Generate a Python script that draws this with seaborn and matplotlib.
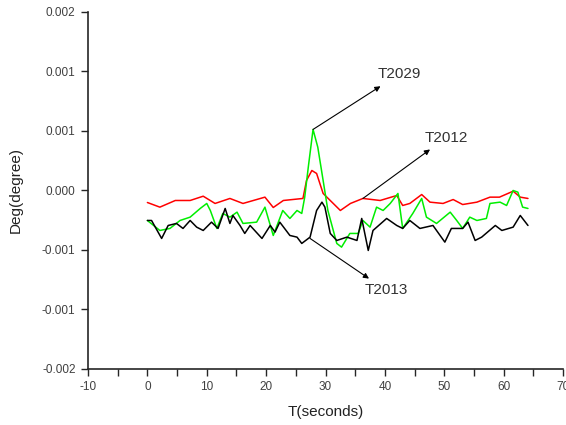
import matplotlib
matplotlib.use("Agg")
import matplotlib.pyplot as plt
import seaborn as sns

# time (s) and angle deviation (degree)
t_red = [0, 2.1, 4.7, 7.2, 9.4, 11.4, 13.9, 16.1, 19.8, 21.2, 22.9, 26.2, 26.8, 27.7, 28.5,
         29.6, 32.5, 34.2, 36.3, 39.2, 42.0, 43.0, 44.2, 46.2, 47.6, 49.8, 51.5, 53.1, 55.5,
         57.7, 59.3, 61.6, 62.8, 64.1]
deg_red = [-0.000101, -0.000140, -0.000084, -0.000084, -0.000048, -0.000109, -0.000067,
           -0.000109, -0.000056, -0.000143, -0.000084, -0.000067, 0.000084, 0.000168, 0.000143,
           -0.000025, -0.000168, -0.000109, -0.000067, -0.000084, -0.000042, -0.000126,
           -0.000109, -0.000034, -0.000098, -0.000109, -0.000076, -0.000118, -0.000098,
           -0.000056, -0.000056, -0.000006, -0.000056, -0.000067]

t_green = [0, 2.1, 3.8, 5.5, 7.2, 8.9, 10.0, 10.6, 11.7, 12.7, 13.9, 15.1, 16.1, 18.4, 19.8,
           21.2, 22.8, 24.0, 25.2, 26.0, 26.5, 27.1, 27.9, 28.7, 29.6, 30.4, 31.9, 32.7, 34.1,
           35.5, 36.3, 37.5, 38.6, 39.7, 40.9, 42.2, 43.0, 44.7, 46.2, 47.0, 48.7, 51.0, 52.1,
           53.1, 54.3, 55.5, 57.1, 57.7, 59.4, 60.5, 61.6, 62.4, 63.2, 64.1]
deg_green = [-0.000252, -0.000336, -0.000319, -0.000252, -0.000224, -0.000151, -0.000109,
             -0.000168, -0.000319, -0.000193, -0.000224, -0.000182, -0.000277, -0.000266,
             -0.000140, -0.000378, -0.000168, -0.000235, -0.000168, -0.000193, -0.000056,
             0.000196, 0.000513, 0.000364, 0.000084, -0.000168, -0.000445, -0.000476,
             -0.000361, -0.000361, -0.000252, -0.000308, -0.000140, -0.000168, -0.000109,
             -0.000025, -0.000319, -0.000193, -0.000067, -0.000224, -0.000277, -0.000182,
             -0.000252, -0.000319, -0.000224, -0.000252, -0.000235, -0.000109, -0.000098,
             -0.000126, 0.000000, -0.000014, -0.000140, -0.000151]

t_black = [0, 0.7, 2.4, 3.5, 4.9, 6.0, 7.2, 8.3, 9.4, 10.8, 11.9, 13.1, 13.9, 14.4, 15.6, 16.4,
           17.3, 19.3, 20.7, 21.5, 22.3, 24.0, 25.2, 26.0, 27.4, 28.5, 29.4, 29.9, 30.8, 31.9,
           33.6, 35.3, 36.1, 37.2, 38.0, 40.3, 42.0, 43.0, 44.2, 45.9, 48.1, 50.1, 51.2, 53.1,
           54.0, 55.2, 56.3, 58.6, 59.7, 61.6, 62.8, 64.1]
deg_black = [-0.000252, -0.000252, -0.000403, -0.000294, -0.000277, -0.000319, -0.000252,
             -0.000308, -0.000336, -0.000266, -0.000319, -0.000151, -0.000277, -0.000210,
             -0.000294, -0.000361, -0.000294, -0.000403, -0.000294, -0.000350, -0.000266,
             -0.000378, -0.000392, -0.000445, -0.000392, -0.000168, -0.000098, -0.000140,
             -0.000361, -0.000420, -0.000392, -0.000420, -0.000235, -0.000504, -0.000336,
             -0.000235, -0.000294, -0.000319, -0.000252, -0.000319, -0.000294, -0.000434,
             -0.000319, -0.000319, -0.000266, -0.000420, -0.000392, -0.000294, -0.000336,
             -0.000308, -0.000210, -0.000294]

y_ticks = [0.0015, 0.001, 0.0005, 0.0, -0.0005, -0.001, -0.0015]
y_tick_labels = ["0.002", "0.001", "0.001", "0.000", "-0.001", "-0.001", "-0.002"]
x_ticks = [-10, 0, 10, 20, 30, 40, 50, 60, 70]
x_tick_labels = ["-10", "0", "10", "20", "30", "40", "50", "60", "70"]

sns.set_style("ticks")
plt.rcParams['font.family'] = ['Liberation Sans', 'DejaVu Sans']
plt.rcParams['axes.unicode_minus'] = False

fig = plt.figure(figsize=(5.66, 4.25), dpi=100)
ax = fig.add_axes([0.1555, 0.1318, 0.8392, 0.84])

sns.lineplot(x=t_red, y=deg_red, color='#ff0000', linewidth=1.1, ax=ax)
sns.lineplot(x=t_green, y=deg_green, color='#00ee00', linewidth=1.1, ax=ax)
sns.lineplot(x=t_black, y=deg_black, color='black', linewidth=1.1, ax=ax)

ax.set_xlim(-10, 70)
ax.set_ylim(-0.0015, 0.0015)
ax.set_xticks(x_ticks)
ax.set_xticklabels(x_tick_labels)
ax.set_xticks([-5, 5, 15, 25, 35, 45, 55, 65], minor=True)
ax.set_yticks(y_ticks)
ax.set_yticklabels(y_tick_labels)
ax.tick_params(axis='both', which='both', direction='out', length=5, width=1,
               labelsize=8.5, labelcolor='#404040', pad=4)
sns.despine(ax=ax)
for s in ['left', 'bottom']:
    ax.spines[s].set_linewidth(1.2)

ax.set_xlabel('T(seconds)', fontsize=11, color='#222222', labelpad=8)
ax.set_ylabel('Deg(degree)', fontsize=11, color='#222222', labelpad=14)

# labelled arrows
arrow = dict(arrowstyle='<|-', color='black', lw=0.8, mutation_scale=8, shrinkA=2, shrinkB=0)
ax.annotate('T2029', xy=(27.9, 0.000513), xytext=(38.7, 0.000975), fontsize=11,
            color='#333333', va='center', ha='left', arrowprops=arrow)
ax.annotate('T2012', xy=(36.3, -0.000067), xytext=(46.7, 0.000445), fontsize=11,
            color='#333333', va='center', ha='left', arrowprops=arrow)
ax.annotate('T2013', xy=(27.4, -0.000403), xytext=(36.6, -0.00084), fontsize=11,
            color='#333333', va='center', ha='left', arrowprops=arrow)

plt.savefig('out.png', dpi=100)
